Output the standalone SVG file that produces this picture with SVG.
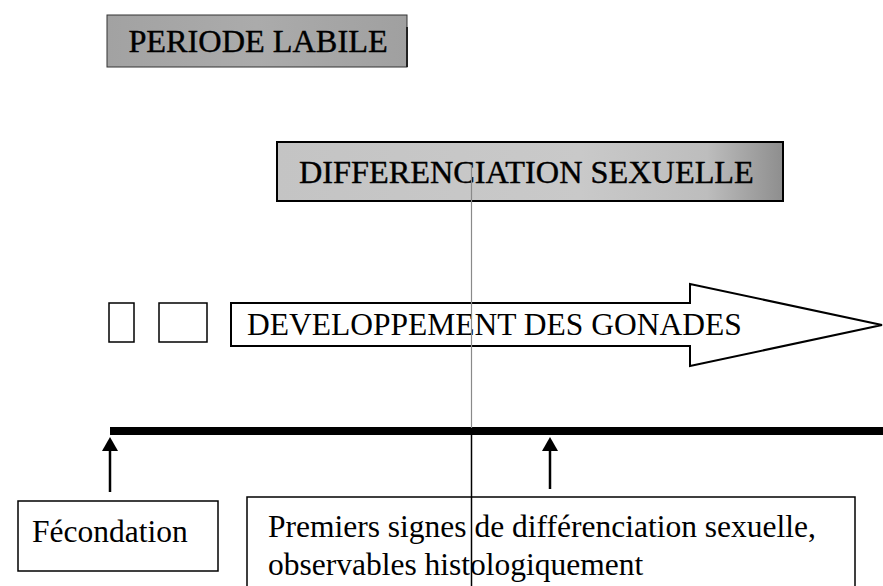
<svg xmlns="http://www.w3.org/2000/svg" width="883" height="586" viewBox="0 0 883 586">
<defs>
<style>
.t{font-family:"Liberation Serif","Times New Roman",serif;font-size:31.5px;fill:#000}
.tb{font-family:"Liberation Serif","Times New Roman",serif;font-size:32.3px;fill:#000;stroke:#000;stroke-width:0.4}
.box{fill:#fff;stroke:#000;stroke-width:1.5}
.ln{stroke:#000;stroke-width:2.5;fill:none}
</style>
<linearGradient id="g1" x1="0" y1="0" x2="1" y2="0">
<stop offset="0" stop-color="#a2a2a2"/><stop offset="0.5" stop-color="#ababab"/><stop offset="1" stop-color="#a0a0a0"/>
</linearGradient>
<linearGradient id="g2" x1="0" y1="0" x2="1" y2="0">
<stop offset="0" stop-color="#c4c4c4"/><stop offset="0.6" stop-color="#c9c9c9"/><stop offset="0.85" stop-color="#bdbdbd"/><stop offset="1" stop-color="#8e8e8e"/>
</linearGradient>
</defs>
<rect width="883" height="586" fill="#fff"/>
<g id="periode-labile">
<rect x="107" y="15" width="300" height="52" fill="url(#g1)" stroke="#333" stroke-width="1"/>
<line x1="407" y1="27" x2="407" y2="67" stroke="#222" stroke-width="2"/>
<text class="tb" x="258" y="52" text-anchor="middle">PERIODE LABILE</text>
</g>
<g id="differenciation">
<rect x="277" y="142" width="506" height="59" fill="url(#g2)" stroke="#000" stroke-width="2"/>
<text class="tb" x="299" y="183">DIFFERENCIATION SEXUELLE</text>
</g>
<g id="small-box-1"><rect class="box" x="109" y="303" width="25" height="39"/></g>
<g id="small-box-2"><rect class="box" x="159" y="303" width="48" height="39"/></g>
<g id="developpement">
<polygon points="231,303 690,303 690,284 882,325 690,366 690,346 231,346" fill="#fff" stroke="#000" stroke-width="2"/>
<text class="t" x="247" y="335">DEVELOPPEMENT DES GONADES</text>
</g>
<g id="fecondation">
<rect class="box" x="18" y="501" width="200" height="70"/>
<text class="t" x="32" y="542">Fécondation</text>
</g>
<g id="premiers-signes">
<rect class="box" x="247" y="497" width="608" height="95"/>
<text class="t" x="268" y="537">Premiers signes de différenciation sexuelle,</text>
<text class="t" x="268" y="575">observables histologiquement</text>
</g>
<g id="connectors">
<rect x="110" y="427" width="773" height="8" fill="#000"/>
<line x1="471.5" y1="165" x2="471.5" y2="428" stroke="#8a8a8a" stroke-width="1.2"/>
<line x1="471.5" y1="434" x2="471.5" y2="586" stroke="#000" stroke-width="1.5"/>
<line class="ln" x1="110" y1="450" x2="110" y2="492"/>
<polygon points="110,437 102,451 118,451" fill="#000"/>
<line class="ln" x1="550" y1="450" x2="550" y2="489"/>
<polygon points="550,437 542,451 558,451" fill="#000"/>
</g>
</svg>
